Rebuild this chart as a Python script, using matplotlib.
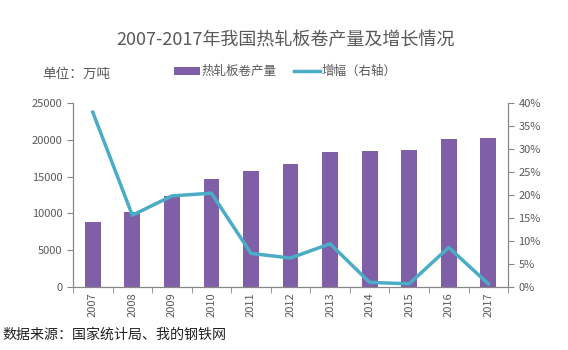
import matplotlib
matplotlib.use("Agg")
import matplotlib.pyplot as plt
import numpy as np
from matplotlib.ticker import FuncFormatter, FixedLocator
from matplotlib.patches import Patch
from matplotlib.lines import Line2D

plt.rcParams['font.family'] = ['Noto Sans CJK SC', 'DejaVu Sans']

years = ['2007', '2008', '2009', '2010', '2011', '2012', '2013', '2014', '2015', '2016', '2017']
production = [8800, 10200, 12350, 14650, 15750, 16700, 18300, 18450, 18550, 20150, 20300]
growth = [38.0, 15.6, 19.8, 20.4, 7.3, 6.3, 9.4, 1.0, 0.7, 8.6, 0.7]

bar_color = '#7F60A8'
line_color = '#4BACC6'
text_color = '#595959'
axis_color = '#868686'

fig = plt.figure(figsize=(5.68, 3.5), dpi=100)
ax = fig.add_axes([0.1285, 0.18, 0.766, 0.5257])
x = np.arange(len(years))
ax.bar(x, production, width=0.4, color=bar_color, zorder=2)
ax.set_xlim(-0.5, len(years) - 0.5)
ax.set_ylim(0, 25000)
ax.set_yticks(np.arange(0, 25001, 5000))
ax.set_xticks(x)
ax.set_xticklabels(years, rotation=90, fontsize=8, color=text_color)
ax.tick_params(axis='x', length=0, pad=4)
ax.xaxis.set_minor_locator(FixedLocator(np.arange(-0.5, len(years), 1.0)))
ax.tick_params(axis='x', which='minor', length=4, color=axis_color, direction='out')
ax.tick_params(axis='y', length=4, color=axis_color, labelsize=8, labelcolor=text_color)

ax2 = ax.twinx()
ax2.plot(x, growth, color=line_color, linewidth=2.5, zorder=3)
ax2.set_ylim(0, 40)
ax2.set_yticks(np.arange(0, 41, 5))
ax2.yaxis.set_major_formatter(FuncFormatter(lambda v, p: f'{int(v)}%'))
ax2.tick_params(axis='y', length=4, color=axis_color, labelsize=8, labelcolor=text_color)

for a in (ax, ax2):
    a.spines['top'].set_visible(False)
    for s in ('left', 'right', 'bottom'):
        a.spines[s].set_color(axis_color)
        a.spines[s].set_linewidth(0.8)

fig.text(0.503, 0.885, '2007-2017年我国热轧板卷产量及增长情况', ha='center', va='center',
         fontsize=13, color=text_color)
fig.text(0.075, 0.79, '单位：万吨', ha='left', va='center', fontsize=9.8, color=text_color)

handles = [Patch(facecolor=bar_color, edgecolor='none'),
           Line2D([0], [0], color=line_color, linewidth=2.5)]
fig.legend(handles, ['热轧板卷产量', '增幅（右轴）'], loc='center', bbox_to_anchor=(0.502, 0.795),
           ncol=2, frameon=False, fontsize=9, labelcolor=text_color,
           handlelength=2.1, handleheight=0.6, columnspacing=1.35, handletextpad=0.15)

fig.text(0.004, 0.043, '数据来源：国家统计局、我的钢铁网', ha='left', va='center', fontsize=10.1, color='#222222')

fig.savefig('out.png', dpi=100)
